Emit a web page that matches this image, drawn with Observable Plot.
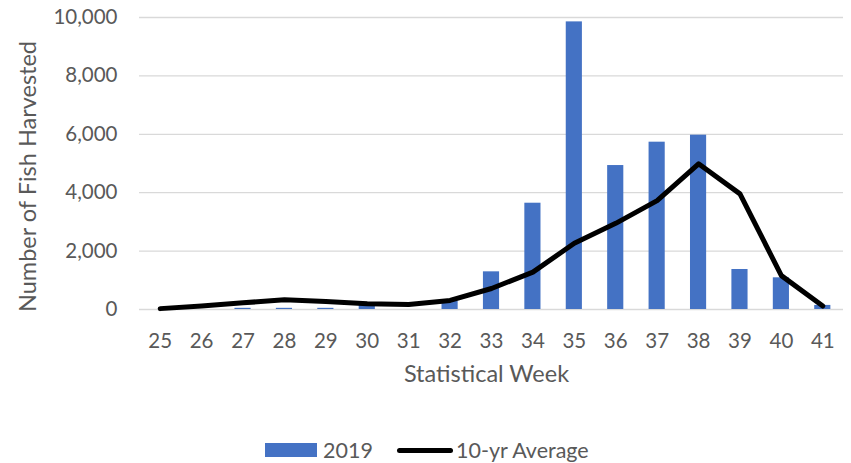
<!DOCTYPE html>
<html>
<head>
<meta charset="utf-8">
<script src="https://cdn.jsdelivr.net/npm/d3@7"></script>
<script src="https://cdn.jsdelivr.net/npm/@observablehq/plot@0.6"></script>
<style>
  html, body { margin: 0; padding: 0; background: #fff; }
  #chart { width: 851px; }
  .legend { height: 53px; font-family: Lato, "Open Sans", sans-serif; font-size: 21.5px; color: #595959; position: relative; }
  .legend .item { position: absolute; display: flex; align-items: center; height: 26px; }
</style>
</head>
<body>
<div id="chart"></div>
<script>
const weeks = ["25","26","27","28","29","30","31","32","33","34","35","36","37","38","39","40","41"];
const harvest2019 = [0, 0, 40, 40, 40, 140, 0, 280, 1290, 3640, 9850, 4930, 5730, 5970, 1370, 1085, 140];
const tenYearAvg = [30, 120, 230, 330, 275, 195, 170, 310, 720, 1280, 2270, 2950, 3730, 4990, 3960, 1160, 120];
const yTicks = [0, 2000, 4000, 6000, 8000, 10000];

const data = weeks.map((w, i) => ({week: w, v2019: harvest2019[i], avg: tenYearAvg[i]}));
const font = "Lato, 'Open Sans', sans-serif";
const grey = "#595959";

const chart = Plot.plot({
  width: 851,
  height: 410,
  marginLeft: 139,
  marginRight: 8,
  marginTop: 17,
  marginBottom: 101,
  style: {fontFamily: font, fontSize: "20.5px", color: grey, background: "#fff"},
  x: {type: "band", domain: weeks, paddingInner: 0.61, paddingOuter: 0.305, round: false},
  y: {domain: [0, 10000]},
  marks: [
    Plot.gridY(yTicks, {stroke: "#d9d9d9", strokeOpacity: 1, strokeWidth: 1.3}),
    Plot.barY(data, {x: "week", y: "v2019", fill: "#4472c4"}),
    Plot.lineY(data, {x: "week", y: "avg", stroke: "#000", strokeWidth: 5, strokeLinejoin: "round", strokeLinecap: "round"}),
    Plot.axisY(yTicks, {tickSize: 0, tickPadding: 22, tickFormat: d3.format(","), label: null, fill: grey, fontSize: 20.5}),
    Plot.axisX({tickSize: 0, tickPadding: 24, label: null, fill: grey, fontSize: 20.5}),
    Plot.text(["Number of Fish Harvested"], {frameAnchor: "left", textAnchor: "middle", rotate: -90, dx: -111, dy: 13, fill: grey, fontSize: 23.5}),
    Plot.text(["Statistical Week"], {frameAnchor: "bottom", dy: 72, dx: -5, fill: grey, fontSize: 23.5})
  ]
});
document.getElementById("chart").appendChild(chart);
</script>
<div class="legend" id="legend">
  <div class="item" style="left:265px; top:27px;">
    <span style="display:inline-block;width:52px;height:14px;background:#4472c4;"></span>
    <span style="margin-left:6px;">2019</span>
  </div>
  <div class="item" style="left:397px; top:27px;">
    <span style="display:inline-block;width:56px;height:5px;background:#000;border-radius:3px;"></span>
    <span style="margin-left:3px;">10-yr Average</span>
  </div>
</div>
</body>
</html>
